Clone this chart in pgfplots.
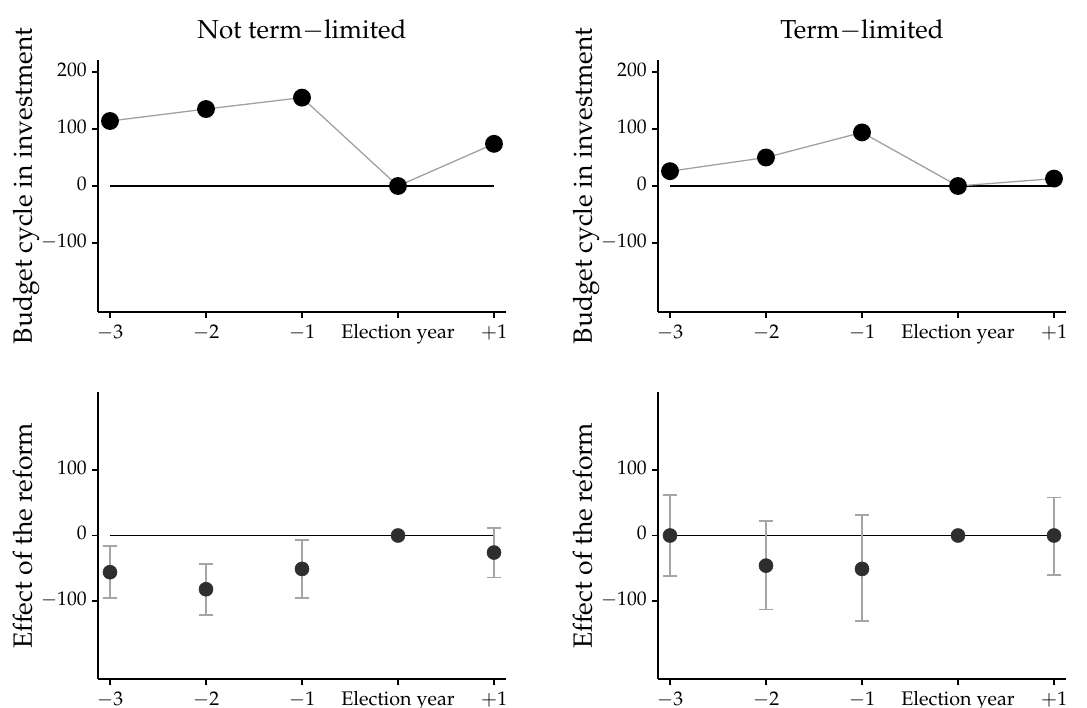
\documentclass[border=0pt]{standalone}
\usepackage[T1]{fontenc}
\usepackage{mathpazo}
\usepackage{pgfplots}
\pgfplotsset{compat=1.18}

\definecolor{linegray}{RGB}{160,160,160}
\definecolor{dotdark}{RGB}{46,46,46}
\definecolor{errgray}{RGB}{165,165,165}

\pgfplotsset{
  panel/.style={
    scale only axis, width=285.6pt,
    xmin=-3.125, xmax=1.125,
    axis x line*=bottom, axis y line*=left,
    axis line style={line width=0.9pt, -},
    tick align=outside, major tick length=4.3pt,
    tick style={line width=0.8pt, black},
    xtick={-3,-2,-1,0,1},
    xticklabels={$-3$,$-2$,$-1$,Election year,$+1$},
    typeset ticklabels with strut,
    tick label style={font=\fontsize{13.8}{15}\selectfont},
    ylabel style={at={(axis description cs:-0.1618,0.5)}, anchor=base,
      font=\fontsize{18.5}{20}\selectfont, inner sep=0pt},
    title style={at={(axis description cs:0.5,1)}, anchor=base, yshift=8.8pt,
      font=\fontsize{18.2}{20}\selectfont, inner sep=0pt},
    clip=false,
  },
  toprow/.style={panel, height=176.4pt, ymin=-221, ymax=221,
    ytick={-100,0,100,200}, ylabel={Budget cycle in investment}},
  botrow/.style={panel, height=200.9pt, ymin=-219, ymax=219,
    ytick={-100,0,100}, ylabel={Effect of the reform}},
  zeroline/.style={black, line width=1pt},
  cycle/.style={linegray, line width=0.9pt, mark=*, mark size=5.8pt,
    mark options={fill=black, draw=black, solid}},
  effect/.style={only marks, mark=*, mark size=4.9pt,
    mark options={fill=dotdark, draw=dotdark}},
  cis/.style={effect, error bars/.cd, y dir=both, y explicit,
    error bar style={errgray, line width=1.3pt},
    error mark options={rotate=90, mark size=5.2pt, errgray, line width=1.3pt}},
}

\begin{document}
\begin{tikzpicture}
\useasboundingbox (0,0) rectangle (760.9pt,-495.6pt);

% top left
\begin{axis}[toprow, at={(68.6pt,-218.4pt)}, anchor=south west,
  title={Not term$-$limited}]
\addplot[zeroline] coordinates {(-3,0) (1,0)};
\addplot[cycle] coordinates {(-3,114) (-2,135) (-1,155) (0,0) (1,74)};
\end{axis}

% top right
\begin{axis}[toprow, at={(460.6pt,-218.4pt)}, anchor=south west,
  title={Term$-$limited}]
\addplot[zeroline] coordinates {(-3,0) (1,0)};
\addplot[cycle] coordinates {(-3,26) (-2,50) (-1,94) (0,0) (1,13)};
\end{axis}

% bottom left
\begin{axis}[botrow, at={(68.6pt,-475.3pt)}, anchor=south west]
\addplot[zeroline] coordinates {(-3,0) (1,0)};
\addplot[cis] coordinates {
  (-3,-56) += (0,40) -= (0,40)
  (-2,-82) += (0,39) -= (0,39)
  (-1,-51) += (0,44) -= (0,45)
  (1,-26)  += (0,38) -= (0,38)
};
\addplot[effect] coordinates {(0,0)};
\end{axis}

% bottom right
\begin{axis}[botrow, at={(460.6pt,-475.3pt)}, anchor=south west]
\addplot[zeroline] coordinates {(-3,0) (1,0)};
\addplot[cis] coordinates {
  (-3,0)   += (0,62) -= (0,62)
  (-2,-46) += (0,68) -= (0,67)
  (-1,-51) += (0,82) -= (0,80)
  (1,0)    += (0,58) -= (0,60)
};
\addplot[effect] coordinates {(0,0)};
\end{axis}
\end{tikzpicture}
\end{document}
